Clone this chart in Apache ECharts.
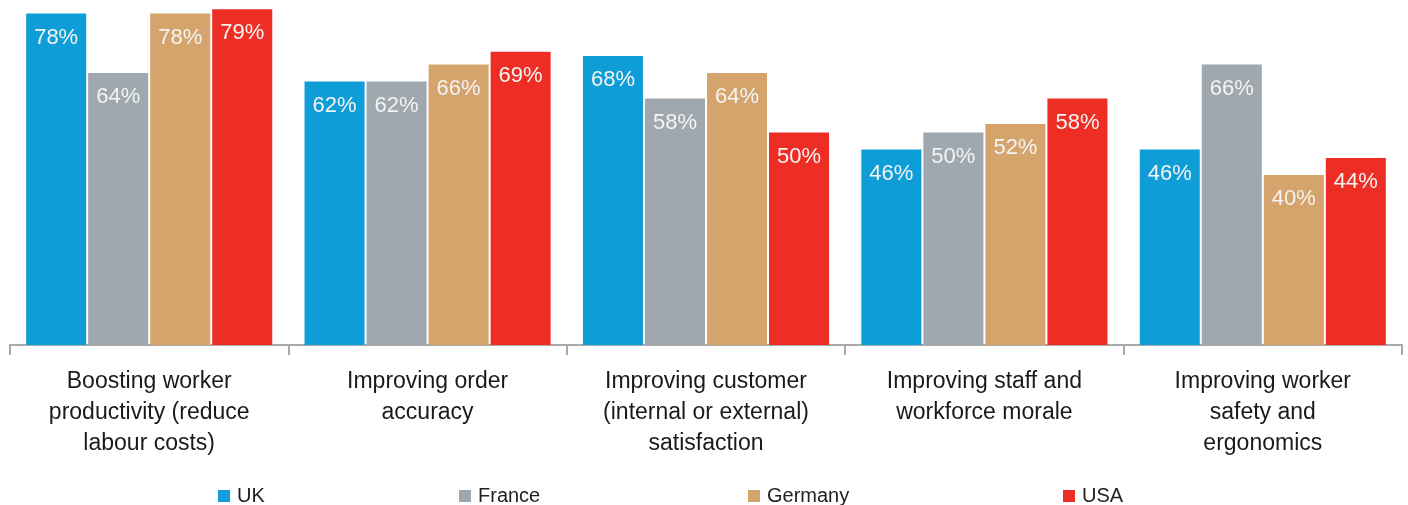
<!DOCTYPE html>
<html>
<head>
<meta charset="utf-8">
<script src="https://cdn.jsdelivr.net/npm/echarts@6/dist/echarts.min.js"></script>
<style>
  html, body { margin: 0; padding: 0; background: #fff; }
  #main { width: 1408px; height: 505px; }
</style>
</head>
<body>
<div id="main"></div>
<script>
// categories along the x axis
var categories = [
    'Boosting worker\nproductivity (reduce\nlabour costs)',
    'Improving order\naccuracy',
    'Improving customer\n(internal or external)\nsatisfaction',
    'Improving staff and\nworkforce morale',
    'Improving worker\nsafety and\nergonomics'
];

// values per country (%)
var countries = ['UK', 'France', 'Germany', 'USA'];
var ukValues = [78, 62, 68, 46, 46];
var franceValues = [64, 62, 58, 50, 66];
var germanyValues = [78, 66, 64, 52, 40];
var usaValues = [79, 69, 50, 58, 44];

var colors = ['#0f9dd8', '#9ea8ae', '#d4a46c', '#ee2e24'];
var legendLeft = [213, 454, 743, 1058];

var myChart = echarts.init(document.getElementById('main'));

var fontName = '"Liberation Sans", Arial, sans-serif';

var makeSeries = function (name, values) {
    return {
        name: name,
        type: 'bar',
        data: values,
        barGap: '3.3%',
        barCategoryGap: '11.6%',
        label: {
            show: true,
            position: 'insideTop',
            distance: 13,
            formatter: '{c}%',
            color: '#f4f4f4',
            fontSize: 22,
            fontFamily: fontName
        }
    };
};

var legends = countries.map(function (c, i) {
    return {
        data: [c],
        left: legendLeft[i],
        top: 481,
        icon: 'rect',
        itemWidth: 12,
        itemHeight: 12,
        textStyle: {
            fontSize: 20,
            color: '#222',
            fontFamily: fontName,
            padding: [0, 0, 0, 2]
        }
    };
});

var option = {
    color: colors,
    animation: false,
    legend: legends,
    grid: {
        left: 10,
        right: 6,
        top: 0,
        bottom: 160,
        containLabel: false
    },
    xAxis: {
        type: 'category',
        data: categories,
        axisLine: { lineStyle: { color: '#aaa', width: 2 } },
        axisTick: { show: true, length: 10, lineStyle: { color: '#aaa', width: 2 } },
        axisLabel: {
            interval: 0,
            margin: 21,
            fontSize: 23,
            lineHeight: 31,
            color: '#1a1a1a',
            fontFamily: fontName,
            verticalAlign: 'top'
        }
    },
    yAxis: {
        type: 'value',
        min: 0,
        max: 81.2,
        show: false,
        splitLine: { show: false }
    },
    series: [
        makeSeries('UK', ukValues),
        makeSeries('France', franceValues),
        makeSeries('Germany', germanyValues),
        makeSeries('USA', usaValues)
    ]
};

myChart.setOption(option);
</script>
</body>
</html>
